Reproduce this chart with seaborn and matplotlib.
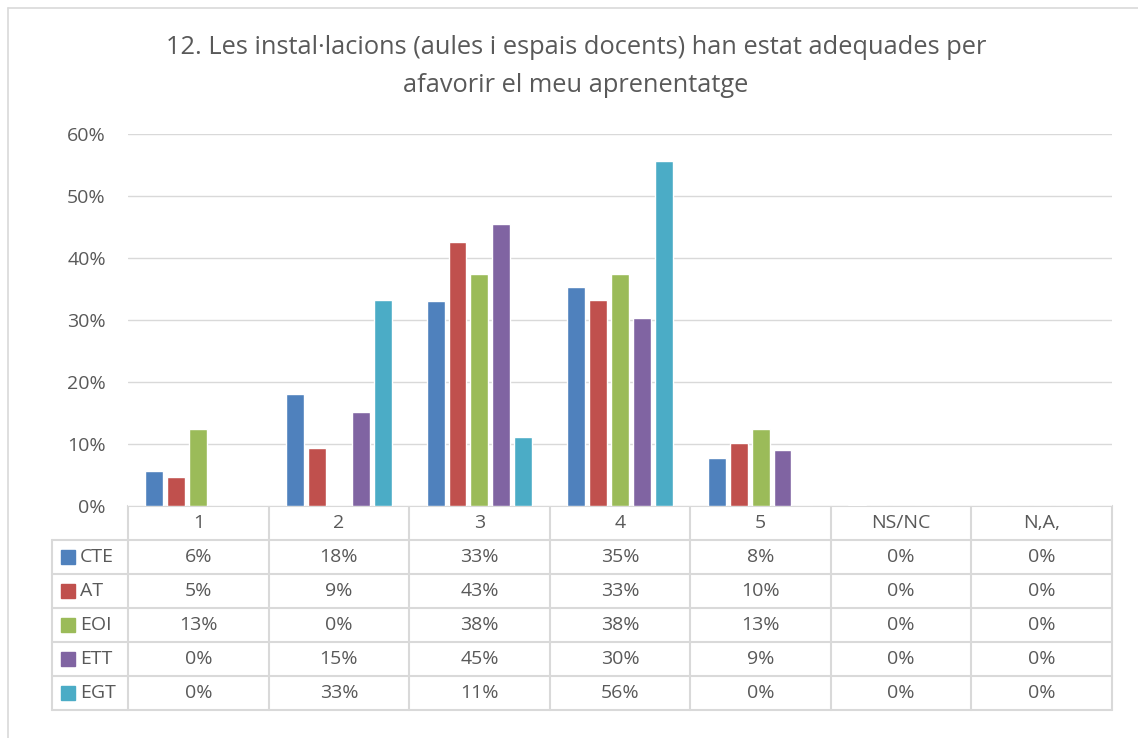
import matplotlib
matplotlib.use("Agg")
import matplotlib.pyplot as plt
from matplotlib.lines import Line2D
from matplotlib.patches import Rectangle
import numpy as np
import pandas as pd
import seaborn as sns

# data (percent)
categories = ["1", "2", "3", "4", "5", "NS/NC", "N,A,"]
series_names = ["CTE", "AT", "EOI", "ETT", "EGT"]
cte = [5.6, 18.1, 33.1, 35.3, 7.7, 0.2, 0.0]
at = [4.7, 9.3, 42.6, 33.3, 10.2, 0.0, 0.0]
eoi = [12.5, 0.0, 37.5, 37.5, 12.5, 0.0, 0.0]
ett = [0.0, 15.2, 45.45, 30.3, 9.1, 0.0, 0.0]
egt = [0.0, 33.3, 11.1, 55.6, 0.0, 0.0, 0.0]
colors = ["#4F81BD", "#C0504D", "#9BBB59", "#8064A2", "#4BACC6"]
title_lines = ["12. Les instal·lacions (aules i espais docents) han estat adequades per",
               "afavorir el meu aprenentatge"]

values = [cte, at, eoi, ett, egt]
df = pd.DataFrame(
    [(c, s, v / 100) for s, vals in zip(series_names, values) for c, v in zip(categories, vals)],
    columns=["cat", "series", "val"],
)

sns.set_theme(style="white")
plt.rcParams["font.family"] = ["Open Sans", "DejaVu Sans"]
TXT = "#595959"
GRID = "#D9D9D9"

W, H = 1138, 738
fig = plt.figure(figsize=(W / 100, H / 100), dpi=100)

# pixel layout
left, right, top, bottom = 128, 1112, 134, 506
ax = fig.add_axes([left / W, 1 - bottom / H, (right - left) / W, (bottom - top) / H])
sns.barplot(data=df, x="cat", y="val", hue="series", palette=colors, order=categories,
            hue_order=series_names, width=0.78, gap=0.18, saturation=1, legend=False, ax=ax)
ax.set_ylim(0, 0.6)
ax.set_yticks(np.arange(0, 0.61, 0.1))
ax.set_yticklabels([f"{int(round(t * 100))}%" for t in ax.get_yticks()], color=TXT, fontsize=14)
ax.tick_params(axis="y", length=0, pad=16)
ax.set_xticks([])
ax.set_xlabel("")
ax.set_ylabel("")
ax.grid(axis="y", color=GRID, linewidth=1)
ax.set_axisbelow(True)
for sp in ax.spines.values():
    sp.set_visible(False)

# overlay in pixel coordinates for title, table and chart border
ov = fig.add_axes([0, 0, 1, 1], zorder=-1)
ov.set_xlim(0, W)
ov.set_ylim(H, 0)
ov.axis("off")
ov.patch.set_alpha(0)

ov.add_line(Line2D([8, 8], [8, H], color=GRID, lw=1.2))
ov.add_line(Line2D([8, W], [8, 8], color=GRID, lw=1.2))

ov.text(576, 48, title_lines[0], ha="center", va="center", fontsize=18.3, color=TXT)
ov.text(576, 86, title_lines[1], ha="center", va="center", fontsize=18.3, color=TXT)

# data table
n = len(categories)
colw = (right - left) / n
rowh = 34
legend_left = 52
hdr_bottom = bottom + rowh
tab_bottom = hdr_bottom + rowh * len(series_names)
lc = GRID
ov.add_line(Line2D([left, right], [bottom, bottom], color=lc, lw=1.5))
ov.add_line(Line2D([legend_left, right], [hdr_bottom, hdr_bottom], color=lc, lw=1.5))
for i in range(len(series_names)):
    y = hdr_bottom + rowh * (i + 1)
    ov.add_line(Line2D([legend_left, right], [y, y], color=lc, lw=1.5))
ov.add_line(Line2D([legend_left, legend_left], [hdr_bottom, tab_bottom], color=lc, lw=1.5))
for j in range(n + 1):
    x = left + colw * j
    ov.add_line(Line2D([x, x], [bottom, tab_bottom], color=lc, lw=1.5))

for j, c in enumerate(categories):
    ov.text(left + colw * (j + 0.5), bottom + rowh / 2, c, ha="center", va="center",
            fontsize=14, color=TXT)

for i, (s, vals, col) in enumerate(zip(series_names, values, colors)):
    yc = hdr_bottom + rowh * (i + 0.5)
    ov.add_patch(Rectangle((61, yc - 7), 14, 14, color=col))
    ov.text(80, yc, s, ha="left", va="center", fontsize=14, color=TXT)
    for j, v in enumerate(vals):
        ov.text(left + colw * (j + 0.5), yc, f"{int(np.floor(v + 0.5))}%", ha="center",
                va="center", fontsize=14, color=TXT)

fig.savefig("out.png", dpi=100, facecolor="white")
